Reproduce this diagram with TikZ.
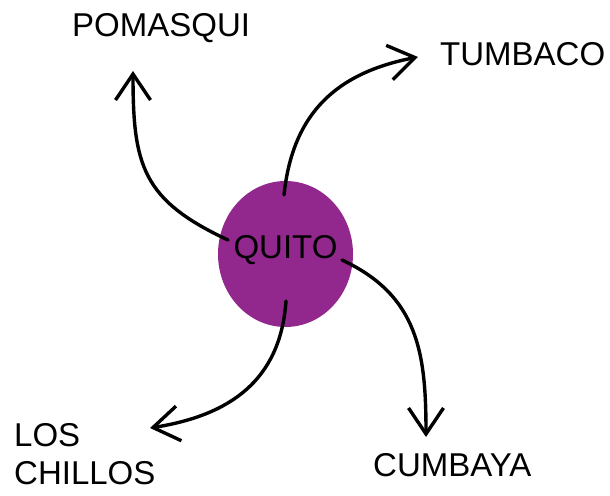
\documentclass[tikz,border=0pt]{standalone}
\usepackage{fontspec}
\setmainfont{Liberation Sans}
\usetikzlibrary{arrows.meta,shapes.geometric}
\definecolor{quitopurple}{RGB}{146,40,142}

\begin{document}
\begin{tikzpicture}[x=1pt,y=1pt,>={Straight Barb[length=26pt,width=35pt]},
  line width=3.4pt,line cap=round,
  cityfont/.style={font=\fontsize{33}{38}\selectfont},
  city/.style={cityfont,inner sep=0pt,anchor=base west}]
\useasboundingbox (0,0) rectangle (610,495);

\node[ellipse,fill=quitopurple,minimum width=135pt,minimum height=146pt,inner sep=0pt,
  label={[cityfont,yshift=4pt]center:QUITO}] (quito) at (285.5,241) {};

\node[city] (pomasqui) at (70.5,458) {POMASQUI};
	\node[city] (tumbaco) at (438.5,429) {TUMBACO};
 \node[city] (cumbaya) at (371.5,18) {CUMBAYA};
	\node[city,align=left] (chillos) at (12.5,10) {LOS\\CHILLOS};

% ends of the arrows
\coordinate (q-pom) at (228,255);
\coordinate (q-tum) at (284,300);
\coordinate (q-cum) at (342,235);
\coordinate (q-chi) at (286,194);
\coordinate (t-pom) at (133,424);
\coordinate (t-tum) at (418,438);
\coordinate (t-cum) at (426,58);
\coordinate (t-chi) at (150,67);

\draw[->] (q-pom) to[out=155,in=-90,looseness=1.25] (t-pom);
\draw[->] (q-tum) to[out=84,in=191,looseness=1.1] (t-tum);
\draw[->] (q-cum) to[out=-25,in=90,looseness=1.1] (t-cum);
\draw[->] (q-chi) to[out=-94,in=9,looseness=1.1] (t-chi);

\end{tikzpicture}
\end{document}
